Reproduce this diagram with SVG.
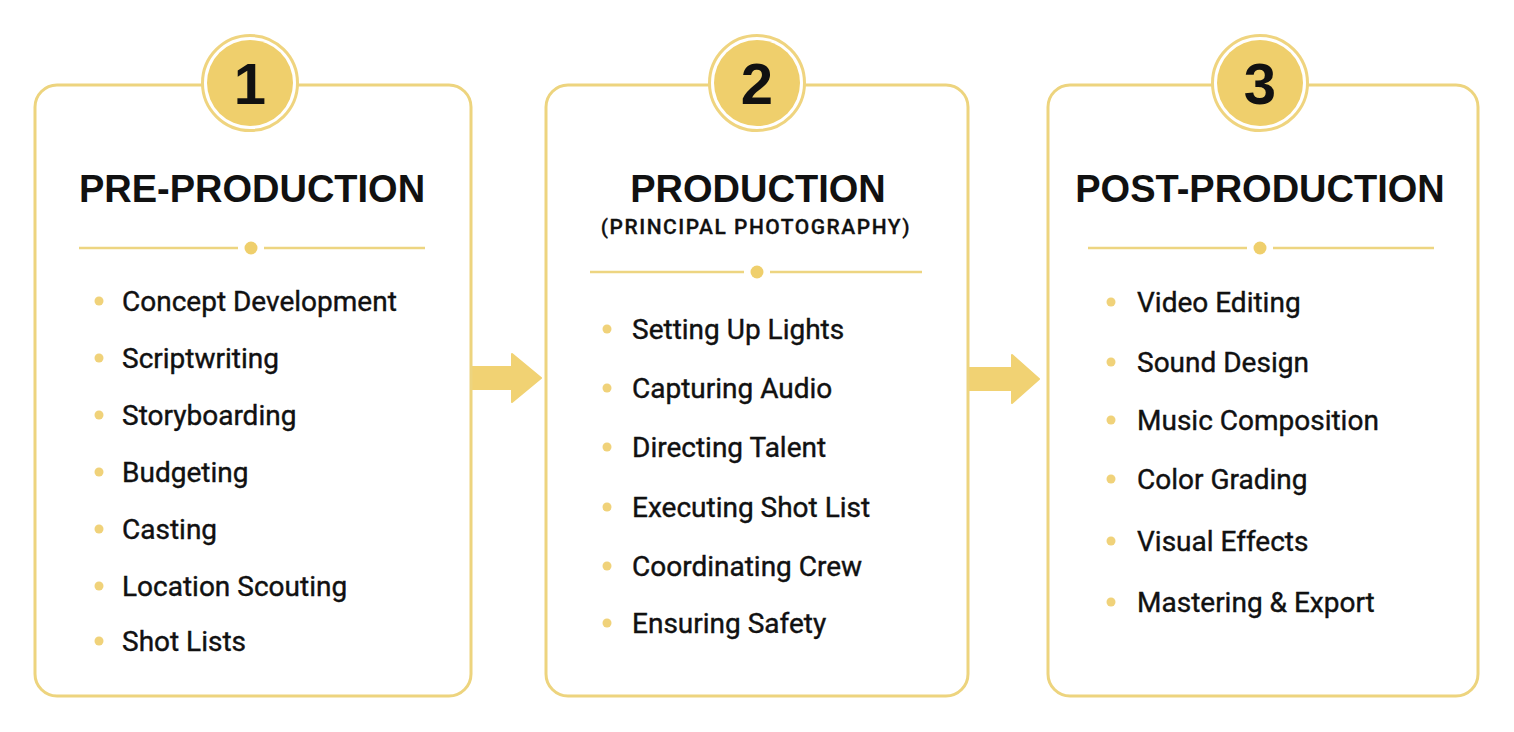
<svg xmlns="http://www.w3.org/2000/svg" width="1514" height="732" viewBox="0 0 1514 732">
<defs>
<style>
.card{fill:#fff;stroke:#EDD47E;stroke-width:3}
.ring{fill:#fff;stroke:#EFD47F;stroke-width:3}
.badge{fill:#EFCF6C}
.num{font-family:"Liberation Sans",Arial,sans-serif;font-weight:bold;font-size:58px;fill:#111;text-anchor:middle}
.title{font-family:"Liberation Sans",Arial,sans-serif;font-weight:bold;font-size:38px;fill:#111;text-anchor:middle}
.sub{font-family:Roboto,"Liberation Sans",sans-serif;font-weight:500;font-size:21px;letter-spacing:1.5px;fill:#111;stroke:#111;stroke-width:0.3;text-anchor:middle}
.div{stroke:#EDD581;stroke-width:2.5;fill:none}
.ddot{fill:#EFCF6C}
.bul{fill:#F0D27A}
.item{font-family:Roboto,"Liberation Sans",sans-serif;font-weight:400;font-size:28px;fill:#111;stroke:#111;stroke-width:0.4}
.arrow{fill:#F1D273;stroke:#F1D273;stroke-width:2;stroke-linejoin:round}
</style>
</defs>
<rect width="1514" height="732" fill="#fff"/>
<g id="connectors">
<path class="arrow" d="M471 367 H512 V354 L541 378 L512 402 V389 H471 Z"/>
<path class="arrow" d="M968 368 H1012 V355 L1039 379 L1012 403 V390 H968 Z"/>
</g>
<g id="card1">
<rect class="card" x="35" y="85" width="436" height="611" rx="22"/>
<circle class="ring" cx="250" cy="83" r="47.5"/>
<circle class="badge" cx="250" cy="83" r="43"/>
<text class="num" x="250" y="104">1</text>
<text class="title" x="252" y="202">PRE-PRODUCTION</text>
<path class="div" d="M79 248 H238 M264 248 H425"/>
<circle class="ddot" cx="251" cy="248" r="6.5"/>
<circle class="bul" cx="99" cy="301" r="4.5"/><text class="item" x="122" y="311">Concept Development</text>
<circle class="bul" cx="99" cy="358" r="4.5"/><text class="item" x="122" y="368">Scriptwriting</text>
<circle class="bul" cx="99" cy="415" r="4.5"/><text class="item" x="122" y="425">Storyboarding</text>
<circle class="bul" cx="99" cy="472" r="4.5"/><text class="item" x="122" y="482">Budgeting</text>
<circle class="bul" cx="99" cy="529" r="4.5"/><text class="item" x="122" y="539">Casting</text>
<circle class="bul" cx="99" cy="586" r="4.5"/><text class="item" x="122" y="596">Location Scouting</text>
<circle class="bul" cx="99" cy="641" r="4.5"/><text class="item" x="122" y="651">Shot Lists</text>
</g>
<g id="card2">
<rect class="card" x="546" y="85" width="422" height="611" rx="22"/>
<circle class="ring" cx="757" cy="83" r="47.5"/>
<circle class="badge" cx="757" cy="83" r="43"/>
<text class="num" x="757" y="104">2</text>
<text class="title" x="758" y="202">PRODUCTION</text>
<text class="sub" x="756" y="234">(PRINCIPAL PHOTOGRAPHY)</text>
<path class="div" d="M590 272 H744 M770 272 H922"/>
<circle class="ddot" cx="757" cy="272" r="6.5"/>
<circle class="bul" cx="607" cy="329" r="4.5"/><text class="item" x="632" y="339">Setting Up Lights</text>
<circle class="bul" cx="607" cy="388" r="4.5"/><text class="item" x="632" y="398">Capturing Audio</text>
<circle class="bul" cx="607" cy="447" r="4.5"/><text class="item" x="632" y="457">Directing Talent</text>
<circle class="bul" cx="607" cy="507" r="4.5"/><text class="item" x="632" y="517">Executing Shot List</text>
<circle class="bul" cx="607" cy="566" r="4.5"/><text class="item" x="632" y="576">Coordinating Crew</text>
<circle class="bul" cx="607" cy="623" r="4.5"/><text class="item" x="632" y="633">Ensuring Safety</text>
</g>
<g id="card3">
<rect class="card" x="1048" y="85" width="430" height="611" rx="22"/>
<circle class="ring" cx="1260" cy="83" r="47.5"/>
<circle class="badge" cx="1260" cy="83" r="43"/>
<text class="num" x="1260" y="104">3</text>
<text class="title" x="1260" y="202">POST-PRODUCTION</text>
<path class="div" d="M1088 248 H1247 M1273 248 H1434"/>
<circle class="ddot" cx="1260" cy="248" r="6.5"/>
<circle class="bul" cx="1111" cy="302" r="4.5"/><text class="item" x="1137" y="312">Video Editing</text>
<circle class="bul" cx="1111" cy="362" r="4.5"/><text class="item" x="1137" y="372">Sound Design</text>
<circle class="bul" cx="1111" cy="420" r="4.5"/><text class="item" x="1137" y="430">Music Composition</text>
<circle class="bul" cx="1111" cy="479" r="4.5"/><text class="item" x="1137" y="489">Color Grading</text>
<circle class="bul" cx="1111" cy="541" r="4.5"/><text class="item" x="1137" y="551">Visual Effects</text>
<circle class="bul" cx="1111" cy="602" r="4.5"/><text class="item" x="1137" y="612">Mastering &amp; Export</text>
</g>
</svg>
